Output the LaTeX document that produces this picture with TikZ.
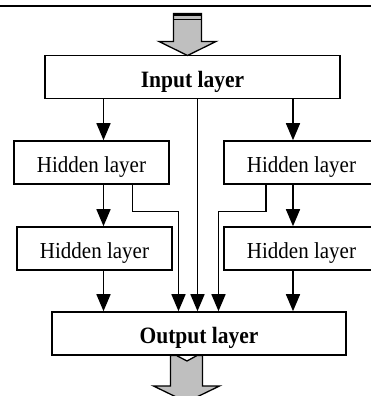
\documentclass[tikz,border=0pt]{standalone}
\usepackage{fontspec}
\setmainfont{Liberation Serif}
\usetikzlibrary{arrows.meta}
\newcommand{\tallertext}[1]{\scalebox{1}[1.09]{#1}}
\begin{document}
\begin{tikzpicture}[x=1pt,y=-1pt,
  layerbox/.style={draw,line width=1.6pt,rectangle,minimum height=43pt,inner sep=0pt,text height=21pt,text depth=1pt,font=\fontsize{21}{24}\selectfont},
  boldbox/.style={layerbox,font=\fontsize{21.5}{24}\selectfont\bfseries},
  link/.style={line width=1.6pt},
  arr/.style={link,-{Triangle[length=17pt,width=14pt]}},
  bigarrow/.style={fill=gray!50,draw,line width=1.3pt,line join=miter}]
\useasboundingbox (0,0) rectangle (371,396);
\clip (0,0) rectangle (371,396);
% top rule
\draw[line width=2.2pt] (0,5.8) -- (371,5.8);
% columns
\coordinate (cL) at (103.5,0);
\coordinate (cM) at (197.5,0);
\coordinate (cR) at (293,0);
\coordinate (kL) at (132.5,211.5);
\coordinate (kLA) at (178.5,211.5);
\coordinate (kR) at (266,211.5);
\coordinate (kRA) at (218.5,211.5);
% boxes
\node[boldbox,minimum width=295pt] (inp) at (192.5,77) {\tallertext{Input layer}};
\node[layerbox,minimum width=155pt] (h1l) at (91.5,162.5) {\tallertext{Hidden layer}};
\node[layerbox,minimum width=155pt] (h2l) at (94.5,248.5) {\tallertext{Hidden layer}};
\node[layerbox,minimum width=155pt] (h1r) at (301.5,162.5) {\tallertext{Hidden layer}};
\node[layerbox,minimum width=155pt] (h2r) at (301.5,248.5) {\tallertext{Hidden layer}};
\node[boldbox,minimum width=294pt] (out) at (199,333.5) {\tallertext{Output layer}};
% connectors
\draw[arr] (inp.south -| cL) -- (h1l.north -| cL);
\draw[arr] (inp.south -| cR) -- (h1r.north -| cR);
\draw[arr] (inp.south -| cM) -- (out.north -| cM);
\draw[arr] (h1l.south -| cL) -- (h2l.north -| cL);
\draw[arr] (h1r.south -| cR) -- (h2r.north -| cR);
\draw[arr] (h2l.south -| cL) -- (out.north -| cL);
\draw[arr] (h2r.south -| cR) -- (out.north -| cR);
\draw[arr] (h1l.south -| kL) -- (kL) -- (kLA) -- (out.north -| kLA);
\draw[arr] (h1r.south -| kR) -- (kR) -- (kRA) -- (out.north -| kRA);
% top big arrow
\draw[bigarrow] (173.5,13.5) -- (201.5,13.5) -- (201.5,41.5) -- (216,41.5) -- (187.5,55.5) -- (159,41.5) -- (173.5,41.5) -- cycle;
\draw[line width=3.2pt] (173,14.6) -- (202,14.6);
\draw[line width=1pt] (173.5,19.5) -- (201.5,19.5);
% bottom big arrow
\draw[bigarrow] (170.5,355.5) -- (176.5,355.5) -- (187,361) -- (197,355.5) -- (202.5,355.5) -- (202.5,386) -- (219.5,386) -- (186.5,402) -- (153.5,386) -- (170.5,386) -- cycle;
\end{tikzpicture}
\end{document}
